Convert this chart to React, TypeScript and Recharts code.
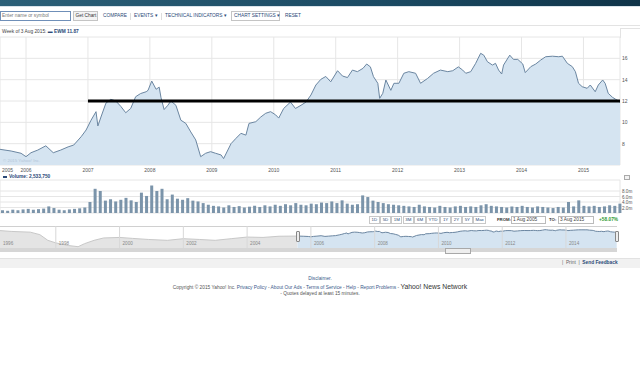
import React from "react";
import {
  Area,
  AreaChart,
  Bar,
  BarChart,
  CartesianGrid,
  ReferenceLine,
  XAxis,
  YAxis,
} from "recharts";

const FONT = '"Liberation Sans", Arial, sans-serif';

// main range: 1 Aug 2005 -> 3 Aug 2015, as decimal years
const rangeStart = 2005.58;
const rangeEnd = 2015.59;
const yearTicks = [2006, 2007, 2008, 2009, 2010, 2011, 2012, 2013, 2014, 2015];
const priceTicks = [8, 10, 12, 14, 16, 18];
const volumeTicks = [2, 4, 6, 8];
const navYears = [1996, 1998, 2000, 2002, 2004, 2006, 2008, 2010, 2012, 2014];
const rangeButtons = ["1D", "5D", "1M", "3M", "6M", "YTD", "1Y", "2Y", "5Y", "Max"];

const priceDates = [
  2005.58, 2005.76, 2005.92, 2006.0, 2006.08, 2006.19, 2006.32, 2006.44, 2006.56, 2006.68,
  2006.77, 2006.89, 2006.97, 2007.05, 2007.13, 2007.16, 2007.21, 2007.29, 2007.37, 2007.45,
  2007.53, 2007.61, 2007.69, 2007.77, 2007.85, 2007.94, 2007.97, 2008.03, 2008.1, 2008.15,
  2008.18, 2008.23, 2008.29, 2008.34, 2008.42, 2008.5, 2008.58, 2008.66, 2008.74, 2008.82,
  2008.9, 2008.98, 2009.06, 2009.15, 2009.19, 2009.31, 2009.39, 2009.47, 2009.55, 2009.6,
  2009.71, 2009.79, 2009.87, 2009.95, 2010.03, 2010.08, 2010.16, 2010.27, 2010.35, 2010.44,
  2010.52, 2010.6, 2010.68, 2010.76, 2010.84, 2010.92, 2011.03, 2011.11, 2011.19, 2011.27,
  2011.35, 2011.44, 2011.5, 2011.56, 2011.61, 2011.68, 2011.71, 2011.76, 2011.81, 2011.89,
  2011.94, 2012.02, 2012.1, 2012.18, 2012.29, 2012.37, 2012.48, 2012.58, 2012.69, 2012.81,
  2012.89, 2012.98, 2013.05, 2013.1, 2013.18, 2013.26, 2013.34, 2013.39, 2013.45, 2013.53,
  2013.58, 2013.63, 2013.68, 2013.71, 2013.81, 2013.87, 2013.94, 2014.02, 2014.06, 2014.15,
  2014.23, 2014.31, 2014.39, 2014.5, 2014.6, 2014.66, 2014.74, 2014.82, 2014.87, 2014.92,
  2014.98, 2015.06, 2015.11, 2015.19, 2015.24, 2015.31, 2015.35, 2015.4, 2015.47, 2015.52,
  2015.56, 2015.59,
];

const priceValues = [
  7.47, 7.31, 7.1, 6.78, 7.15, 7.4, 7.8, 7.15, 7.4, 7.7,
  7.87, 8.65, 9.28, 10.2, 11.0, 9.66, 10.5, 11.8, 12.16, 12.0,
  11.5, 10.9, 11.3, 12.4, 12.7, 12.87, 13.0, 13.87, 13.1, 13.3,
  12.3, 11.2, 11.6, 12.0, 11.6, 10.2, 9.9, 9.1, 8.35, 6.78,
  7.1, 7.25, 7.1, 6.94, 6.6, 8.0, 8.5, 8.97, 8.8, 9.9,
  10.06, 10.5, 10.85, 11.0, 10.7, 10.4, 11.3, 11.9, 11.3, 11.6,
  11.9, 12.56, 13.5, 14.03, 14.3, 13.8, 14.84, 14.34, 14.2, 14.9,
  14.75, 15.06, 15.47, 15.2, 14.28, 13.66, 12.25, 12.72, 13.97, 13.0,
  13.66, 13.66, 14.6, 14.75, 14.6, 13.66, 14.1, 14.6, 14.9, 14.75,
  14.84, 15.2, 14.9, 14.6, 14.75, 15.53, 16.47, 16.3, 15.68, 15.37,
  15.53, 14.9, 14.53, 15.37, 16.3, 15.9, 15.9, 15.47, 14.66, 15.22,
  15.47, 15.84, 16.15, 16.2, 16.15, 16.2, 15.53, 15.22, 14.75, 13.66,
  13.34, 13.19, 13.5, 12.87, 13.5, 13.97, 13.66, 12.72, 12.34, 12.16,
  12.03, 11.87,
];

// monthly volume in millions, Aug 2005 .. Aug 2015
const volumeValues = [
  1.0, 0.8, 1.2, 1.0, 1.3,
  1.5, 1.2, 1.4, 1.6, 2.4, 1.8, 1.2, 1.0, 1.3, 1.5, 1.7, 2.0,
  4.0, 8.8, 8.0, 4.5, 5.0, 4.2, 4.8, 5.5, 4.6, 4.0, 7.4, 6.2,
  10.0, 8.0, 8.8, 5.0, 6.7, 5.2, 4.8, 5.4, 4.5, 4.2, 3.6, 3.0,
  2.6, 2.4, 2.0, 2.8, 2.2, 2.5, 2.0, 2.3, 2.6, 2.2, 2.8, 2.4,
  3.0, 2.6, 3.2, 2.8, 3.6, 3.0, 2.8, 3.4, 3.2, 3.8, 3.6, 4.2,
  3.6, 4.6, 3.4, 3.0, 3.2, 6.4, 5.8, 4.5, 4.0, 3.6, 3.2, 3.0,
  2.8, 2.6, 2.4, 2.2, 3.0, 2.4, 2.2, 2.0, 2.6, 2.2, 2.0, 2.4,
  2.6, 2.2, 2.4, 2.2, 2.8, 3.2, 2.6, 2.4, 2.2, 2.0, 2.4, 2.2,
  2.6, 2.2, 2.0, 2.4, 2.2, 2.0, 1.8, 2.2, 2.0, 4.0, 2.4, 4.6,
  2.6, 2.4, 2.6, 2.2, 2.4, 2.8, 2.6, 3.4,
];

// long history shown in the navigator (log scale)
const navStart = 1996.25;
const navEnd = 2015.6;
const navPreDates = [
  1996.25, 1996.6, 1997.2, 1997.5, 1997.75, 1998.0, 1998.4, 1998.7, 1998.9, 1999.2, 1999.5,
  2000.0, 2000.4, 2000.9, 2001.5, 2002.0, 2002.5, 2003.0, 2003.5, 2004.0, 2004.5, 2005.0, 2005.58,
];
const navPreValues = [
  14.7, 13.3, 12.1, 8.9, 4.4, 3.2, 2.3, 2.0, 2.9, 4.4, 5.9,
  6.3, 5.6, 4.9, 4.4, 5.4, 4.9, 4.4, 5.4, 6.6, 6.3, 7.3, 7.47,
];

const priceData = priceDates.map((t, i) => ({ t, v: priceValues[i] }));
const volumeData = volumeValues.map((v, i) => ({ t: rangeStart + (i + 0.5) / 12, v }));
const navData = [
  ...navPreDates.map((t, i) => ({ t, pre: navPreValues[i] })),
  ...priceDates.map((t, i) => ({ t, post: priceValues[i] })),
];

const YearTick = (props: any) => {
  const { x, y, payload } = props;
  const first = payload.value < 2006;
  return (
    <text
      x={first ? 2 : x}
      y={y - 1}
      fontSize={5}
      fontFamily={FONT}
      fill="#555"
      textAnchor={first ? "start" : "middle"}
    >
      {Math.floor(payload.value)}
    </text>
  );
};

const PriceTick = (props: any) => {
  const { x, y, payload } = props;
  if (payload.value === 18) return <g />;
  return (
    <text x={x - 6} y={y + 2} fontSize={5} fontFamily={FONT} fill="#555">
      {payload.value}
    </text>
  );
};

const VolumeTick = (props: any) => {
  const { x, y, payload } = props;
  return (
    <text x={x - 6} y={y + 2} fontSize={4.6} fontFamily={FONT} fill="#555">
      {payload.value.toFixed(1)}m
    </text>
  );
};

function T({
  x,
  y,
  size = 4.8,
  color = "#2b4a78",
  bold = false,
  children,
}: {
  x: number;
  y: number;
  size?: number;
  color?: string;
  bold?: boolean;
  children: React.ReactNode;
}) {
  return (
    <div
      style={{
        position: "absolute",
        left: x,
        top: y,
        fontSize: size,
        lineHeight: 1,
        color,
        fontWeight: bold ? 700 : 400,
        whiteSpace: "nowrap",
      }}
    >
      {children}
    </div>
  );
}

const box = (x: number, y: number, w: number, h: number, extra: React.CSSProperties = {}) => (
  <div
    style={{
      position: "absolute",
      left: x,
      top: y,
      width: w,
      height: h,
      boxSizing: "border-box",
      ...extra,
    }}
  />
);

export default function App() {
  return (
    <div
      style={{
        position: "absolute",
        left: 0,
        top: 0,
        width: 640,
        height: 378,
        background: "#fff",
        fontFamily: FONT,
        overflow: "hidden",
      }}
    >
      {/* header band */}
      {box(0, 0, 640, 6, { background: "linear-gradient(90deg,#2c6078,#1b4a63 60%,#0f3348)" })}
      {box(0, 6, 640, 1, { background: "#d9e3ea" })}

      {/* toolbar */}
      {box(0, 11, 71, 10, { border: "1px solid #6f8fb8", background: "#fff" })}
      <T x={2} y={14} color="#777">Enter name or symbol</T>
      {box(73, 11, 25, 10, { border: "1px solid #c4c4c4", background: "#f4f4f4" })}
      <T x={75.5} y={14} color="#333">Get Chart</T>
      <T x={103} y={14}>COMPARE</T>
      {box(130, 13, 1, 7, { background: "#ddd" })}
      <T x={134} y={14}>EVENTS ▾</T>
      {box(161, 13, 1, 7, { background: "#ddd" })}
      <T x={165} y={14}>TECHNICAL INDICATORS ▾</T>
      {box(231, 11, 49, 10, { border: "1px solid #c4c4c4" })}
      <T x={234} y={14}>CHART SETTINGS ▾</T>
      <T x={285} y={14}>RESET</T>
      {box(0, 25, 640, 1, { background: "#e3e3e3" })}

      <T x={2} y={30} color="#444">
        Week of 3 Aug 2015:{" "}
        <span style={{ color: "#2b4a78", fontWeight: 700 }}>▬ EWM 11.87</span>
      </T>
      {box(620, 28, 20, 1, { background: "#e3e3e3" })}
      {box(620, 28, 1, 10, { background: "#e3e3e3" })}

      {/* price chart */}
      <div style={{ position: "absolute", left: 0, top: 0 }}>
        <AreaChart
          width={640}
          height={178}
          data={priceData}
          margin={{ top: 37, right: 0, bottom: 0, left: 0 }}
        >
          <CartesianGrid stroke="#e6e6e6" />
          <XAxis
            type="number"
            dataKey="t"
            domain={[rangeStart, rangeEnd]}
            ticks={[rangeStart, ...yearTicks]}
            interval={0}
            allowDataOverflow
            tick={YearTick}
            tickLine={false}
            axisLine={false}
            height={13}
          />
          <YAxis
            orientation="right"
            domain={[6, 18]}
            ticks={priceTicks}
            interval={0}
            allowDataOverflow
            tick={PriceTick}
            tickLine={false}
            axisLine={false}
            width={20}
          />
          <Area
            type="linear"
            dataKey="v"
            stroke="#6b86a1"
            strokeWidth={1}
            fill="#d5e4f1"
            fillOpacity={1}
            dot={false}
            isAnimationActive={false}
          />
          <ReferenceLine
            segment={[
              { x: 2007, y: 12 },
              { x: rangeEnd, y: 12 },
            ]}
            stroke="#000"
            strokeWidth={3}
          />
        </AreaChart>
      </div>
      <T x={3} y={159} size={4.4} color="#b3c6d8">© 2015 Yahoo! Inc.</T>

      {/* volume */}
      <div style={{ position: "absolute", left: 0, top: 172 }}>
        <BarChart
          width={640}
          height={42}
          data={volumeData}
          margin={{ top: 8, right: 0, bottom: 0, left: 0 }}
        >
          <CartesianGrid stroke="#e6e6e6" />
          <XAxis
            type="number"
            dataKey="t"
            domain={[rangeStart, rangeEnd]}
            ticks={yearTicks}
            interval={0}
            tick={false}
            tickLine={false}
            axisLine={false}
            height={1}
          />
          <YAxis
            orientation="right"
            domain={[0, 12]}
            ticks={volumeTicks}
            interval={0}
            tick={VolumeTick}
            tickLine={false}
            axisLine={false}
            width={20}
          />
          <Bar dataKey="v" fill="#7b94aa" barSize={3} isAnimationActive={false} />
        </BarChart>
      </div>
      {box(3, 176, 4, 2, { background: "#2b4a78" })}
      <T x={9} y={174.5} bold>Volume: 2,533,750</T>
      {box(624, 175, 6, 5, { border: "1px solid #aaa", background: "#f2f2f2" })}

      {/* range row */}
      <div
        style={{
          position: "absolute",
          left: 369,
          top: 216,
          display: "flex",
          gap: 0.5,
        }}
      >
        {rangeButtons.map((b) => (
          <div
            key={b}
            style={{
              border: "1px solid #c8c8c8",
              height: 8,
              boxSizing: "border-box",
              padding: "0 1.5px",
              fontSize: 4.4,
              lineHeight: "6px",
              color: "#2b4a78",
            }}
          >
            {b}
          </div>
        ))}
      </div>
      <T x={497} y={218} size={4.3} bold color="#333">FROM:</T>
      {box(511, 216, 35, 8, { border: "1px solid #bbb" })}
      <T x={513} y={218} color="#444">1 Aug 2005</T>
      <T x={549} y={218} size={4.3} bold color="#333">TO:</T>
      {box(558, 216, 36, 8, { border: "1px solid #bbb" })}
      <T x={560} y={218} color="#444">3 Aug 2015</T>
      <T x={599} y={218} bold color="#2f9a2f">+58.07%</T>

      {/* navigator */}
      {box(0, 226, 617, 1, { background: "#d0d0d0" })}
      <div style={{ position: "absolute", left: 0, top: 226 }}>
        <AreaChart
          width={617}
          height={22}
          data={navData}
          margin={{ top: 0, right: 0, bottom: 0, left: 0 }}
        >
          <XAxis type="number" dataKey="t" domain={[navStart, navEnd]} hide allowDataOverflow />
          <YAxis scale="log" domain={[1.7, 26]} hide allowDataOverflow />
          <Area
            type="linear"
            dataKey="pre"
            stroke="#c8c8c8"
            strokeWidth={1}
            fill="#e4e4e4"
            fillOpacity={1}
            baseValue="dataMin"
            dot={false}
            isAnimationActive={false}
          />
          <Area
            type="linear"
            dataKey="post"
            stroke="#6b86a1"
            strokeWidth={1}
            fill="#d5e4f1"
            fillOpacity={1}
            baseValue="dataMin"
            dot={false}
            isAnimationActive={false}
          />
          {navYears.map((yr) => (
            <ReferenceLine
              key={yr}
              x={Math.max(yr, navStart)}
              stroke={yr < navStart ? "none" : "#d8d8d8"}
              label={{
                value: String(yr),
                position: "insideBottomLeft",
                offset: 3,
                fontSize: 4.6,
                fill: "#888",
                fontFamily: FONT,
              }}
            />
          ))}
        </AreaChart>
      </div>
      {box(296, 231, 4, 11, { border: "1px solid #888", background: "#eee", borderRadius: 1 })}
      {box(615, 231, 4, 11, { border: "1px solid #888", background: "#eee", borderRadius: 1 })}
      {box(0, 248, 617, 4, { background: "#d6d6d6" })}
      {box(445, 247.5, 26, 6, { border: "1px solid #a8a8a8", background: "#eeeeee" })}

      {/* footer */}
      {box(0, 258, 640, 10, { background: "#f1f1f1", borderTop: "1px solid #e2e2e2" })}
      <T x={562} y={261} color="#666">
        |&nbsp;&nbsp;Print&nbsp;&nbsp;|&nbsp;&nbsp;
        <span style={{ color: "#2b4a78", fontWeight: 700 }}>Send Feedback</span>
      </T>
      <div
        style={{
          position: "absolute",
          left: 0,
          top: 276,
          width: 640,
          textAlign: "center",
          fontSize: 4.8,
          color: "#3a5a8a",
        }}
      >
        Disclaimer.
      </div>
      <div
        style={{
          position: "absolute",
          left: 0,
          top: 283,
          width: 640,
          textAlign: "center",
          fontSize: 4.8,
          color: "#555",
          whiteSpace: "nowrap",
        }}
      >
        Copyright © 2015 Yahoo! Inc.{" "}
        <span style={{ color: "#3a5a8a" }}>Privacy Policy</span> -{" "}
        <span style={{ color: "#3a5a8a" }}>About Our Ads</span> -{" "}
        <span style={{ color: "#3a5a8a" }}>Terms of Service</span> -{" "}
        <span style={{ color: "#3a5a8a" }}>Help</span> -{" "}
        <span style={{ color: "#3a5a8a" }}>Report Problems</span> -{" "}
        <span style={{ fontSize: 6.8, color: "#333" }}>Yahoo! News Network</span>
      </div>
      <div
        style={{
          position: "absolute",
          left: 0,
          top: 291,
          width: 640,
          textAlign: "center",
          fontSize: 4.8,
          color: "#555",
        }}
      >
        - Quotes delayed at least 15 minutes.
      </div>
    </div>
  );
}
